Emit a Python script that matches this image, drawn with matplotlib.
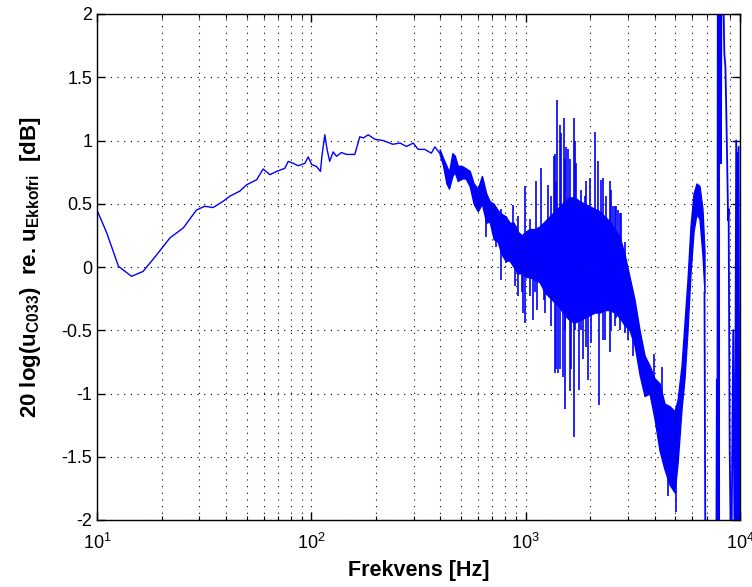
import matplotlib
matplotlib.use("Agg")
import matplotlib.pyplot as plt
from matplotlib.ticker import LogLocator, LogFormatterMathtext, FixedLocator, NullFormatter

plt.rcParams['font.family'] = ['Liberation Sans', 'DejaVu Sans']
plt.rcParams['mathtext.fontset'] = 'custom'
plt.rcParams['mathtext.rm'] = 'Liberation Sans'
plt.rcParams['mathtext.it'] = 'Liberation Sans:italic'
plt.rcParams['mathtext.bf'] = 'Liberation Sans:bold'
plt.rcParams['mathtext.default'] = 'regular'

# ---- data ----
# smooth low-frequency part
freq_smooth = [10, 11.1, 12.6, 14.5, 16.4, 19.0, 21.9, 25.3, 29.1, 31.8, 34.8, 38.8,
               41.7, 46.4, 49.9, 55.6, 59.6, 64.1, 68.9, 75.2, 78.0, 82.3, 86.8,
               93.3, 96.7, 100.3, 105.7, 110.3, 112, 115.6, 118.4, 121.8, 126.4,
               131.0, 138.1, 145.8, 159.5, 168.4, 175, 184.2, 197.8, 216, 228,
               240, 259, 278, 299, 315, 338, 363, 377, 397]
db_smooth = [0.45, 0.27, 0.005, -0.074, -0.035, 0.097, 0.23, 0.31, 0.45, 0.48, 0.47,
             0.52, 0.56, 0.60, 0.65, 0.69, 0.775, 0.73, 0.756, 0.78, 0.835, 0.82,
             0.80, 0.82, 0.87, 0.81, 0.795, 0.756, 0.875, 1.045, 0.93, 0.835, 0.91,
             0.875, 0.905, 0.89, 0.89, 1.03, 1.02, 1.045, 1.01, 1.0, 0.985, 0.97,
             0.98, 0.953, 0.98, 0.93, 0.93, 0.90, 0.95, 0.90]

# dense noisy core: lower / upper envelope
freq_band = [397, 412, 427, 439, 455, 467, 482, 503, 525, 548, 572, 598, 625, 655,
             679, 709, 740, 772, 806, 842, 879, 918, 959, 1000, 1044, 1101, 1162,
             1227, 1294, 1365, 1441, 1520, 1604, 1692, 1786, 1884, 1988, 2098,
             2213, 2335, 2464, 2600, 2743, 2894, 3054, 3222, 3400, 3587, 3785,
             3993, 4213, 4446, 4691, 4949, 5115, 5336, 5510, 5690, 5875, 6070,
             6266, 6472, 6680, 6829]
band_low = [0.89, 0.80, 0.66, 0.62, 0.72, 0.75, 0.68, 0.70, 0.70, 0.64, 0.50, 0.44,
            0.50, 0.35, 0.36, 0.22, 0.20, 0.10, 0.05, 0.05, 0.0, -0.05, -0.05,
            -0.08, -0.08, -0.10, -0.12, -0.20, -0.24, -0.28, -0.32, -0.38, -0.42,
            -0.44, -0.42, -0.40, -0.38, -0.36, -0.36, -0.34, -0.34, -0.36, -0.40,
            -0.46, -0.50, -0.62, -0.85, -1.02, -1.00, -1.20, -1.45, -1.60, -1.72,
            -1.78, -1.55, -1.12, -0.88, -0.50, -0.05, 0.28, 0.42, 0.38, 0.10, -0.20]
band_high = [0.93, 0.86, 0.80, 0.75, 0.90, 0.88, 0.80, 0.80, 0.78, 0.76, 0.66, 0.62,
             0.72, 0.58, 0.52, 0.50, 0.45, 0.42, 0.40, 0.35, 0.35, 0.28, 0.25, 0.28,
             0.30, 0.30, 0.32, 0.36, 0.40, 0.44, 0.48, 0.52, 0.55, 0.55, 0.52, 0.50,
             0.48, 0.46, 0.44, 0.40, 0.36, 0.30, 0.24, 0.10, -0.08, -0.26, -0.50,
             -0.70, -0.78, -0.88, -0.92, -1.08, -1.10, -1.14, -1.05, -0.78, -0.44,
             -0.10, 0.32, 0.58, 0.66, 0.64, 0.46, 0.12]

# isolated spikes: frequency, lowest and highest value
spike_freq = [656, 730, 770, 807, 873, 889, 921, 966, 972, 989, 1044, 1081, 1101,
              1113, 1129, 1162, 1184, 1213, 1227, 1271, 1318, 1351, 1365, 1391,
              1403, 1415, 1440, 1467, 1493, 1509, 1520, 1532, 1548, 1575, 1604,
              1616, 1633, 1674, 1692, 1723, 1767, 1818, 1850, 1884, 1919, 1952,
              1988, 2024, 2098, 2173, 2189, 2254, 2293, 2335, 2378, 2464, 2483,
              2509, 2553, 2600, 2648, 2694, 2743, 2794, 2864, 2894, 2999, 3054,
              3164, 3953, 4305, 4608, 5005]
spike_low = [0.24, 0.16, -0.10, 0.03, 0.10, -0.15, -0.23, -0.20, -0.36, -0.44,
             -0.23, -0.42, -0.20, 0.00, -0.34, -0.10, 0.00, -0.26, -0.36, 0.00,
             -0.47, 0.00, -0.84, -0.81, 0.00, -0.84, -0.81, -0.20, -0.87, 0.00,
             -0.50, -1.12, 0.00, -0.40, -0.98, 0.00, -0.81, -1.34, -0.50, 0.00,
             -0.97, -0.50, -0.73, 0.00, -0.63, -0.89, 0.00, -0.60, 0.00, 0.00,
             -1.09, 0.00, -0.58, -0.58, 0.00, -0.67, 0.00, -0.50, 0.00, -0.47,
             -0.40, 0.00, -0.50, 0.00, -0.10, -0.52, -0.58, -0.47, -0.70, -1.00,
             -1.20, -1.81, -1.94]
spike_high = [0.50, 0.45, 0.46, 0.40, 0.49, 0.30, 0.40, 0.25, 0.10, 0.64, 0.38,
              0.20, 0.25, 0.68, 0.20, 0.24, 0.78, 0.20, 0.20, 0.65, 0.56, 0.88,
              0.89, 0.67, 1.32, 0.00, 1.12, 1.06, 0.00, 1.18, 0.85, 0.00, 0.95,
              0.93, 0.00, 0.85, 0.50, 1.18, 1.00, 0.82, 0.00, 0.61, 0.00, 0.56,
              0.68, 0.00, 0.70, 0.00, 1.07, 0.84, 0.00, 0.69, 0.70, 0.00, 0.56,
              0.00, 0.68, 0.61, 0.48, 0.48, 0.48, 0.45, 0.43, 0.43, 0.11, 0.20,
              -0.05, -0.10, -0.26, -0.69, -0.79, -1.50, -1.60]

# high-frequency wild part (values beyond the axis are clipped)
freq_hf = [6829, 6900, 7750, 7800, 7840, 7880, 7950, 8000, 8050, 8100, 8150, 8200,
           8300, 8450, 8550, 8650, 8750, 8800, 8850, 8950, 9100, 9300, 9450, 9600,
           9650, 9700, 9750, 9850, 9950]
db_hf = [-0.20, -2.5, -2.5, -0.89, -2.5, 2.5, -2.5, 2.5, 1.60, 2.5, 0.82, 2.5,
         2.5, 1.69, 1.58, 1.14, 0.64, 0.37, 0.46, -1.42, -2.5, -0.5, -2.5, 1.0,
         -2.5, 0.90, -2.5, 0.95, -2.5]

x_ticks = [10, 100, 1000, 10000]
y_ticks = [-2, -1.5, -1, -0.5, 0, 0.5, 1, 1.5, 2]
y_ticklabels = ['-2', '-1.5', '-1', '-0.5', '0', '0.5', '1', '1.5', '2']

# ---- figure ----
fig = plt.figure(figsize=(7.52, 5.87), dpi=100)
ax = fig.add_axes([97 / 752, 67 / 587, 643 / 752, 506 / 587])

blue = (0, 0, 1)
ax.plot(freq_smooth, db_smooth, color=blue, lw=1.0)
ax.fill_between(freq_band, band_low, band_high, color=blue, lw=1.0, edgecolor=blue)
ax.vlines(spike_freq, spike_low, spike_high, color=blue, lw=1.2)
ax.plot(freq_hf, db_hf, color=blue, lw=1.3)

ax.set_xscale('log')
ax.set_xlim(10, 10000)
ax.set_ylim(-2, 2)
ax.xaxis.set_major_locator(FixedLocator(x_ticks))
ax.xaxis.set_major_formatter(LogFormatterMathtext())
ax.xaxis.set_minor_locator(LogLocator(base=10, subs=range(2, 10), numticks=20))
ax.xaxis.set_minor_formatter(NullFormatter())
ax.set_yticks(y_ticks)
ax.set_yticklabels(y_ticklabels)

grid_style = dict(color='black', linestyle=(0, (1, 5)), linewidth=0.8)
ax.grid(True, which='major', axis='both', **grid_style)
ax.grid(True, which='minor', axis='x', **grid_style)

ax.tick_params(which='both', direction='in', top=True, right=True,
               labelsize=13, colors='black')
ax.tick_params(which='major', length=6, width=1)
ax.tick_params(which='minor', length=3, width=0.8)
ax.tick_params(axis='x', which='major', pad=9)
for s in ax.spines.values():
    s.set_linewidth(1.0)
    s.set_color('black')

ax.set_xlabel('Frekvens [Hz]', fontsize=15.5, fontweight='bold', labelpad=5)
ax.set_ylabel(r'20 log(u$_{\mathbf{C033}}$)  re. u$_{\mathbf{Ekkofri}}$  [dB]',
              fontsize=16, fontweight='bold', labelpad=13)

fig.savefig('out.png', dpi=100)
